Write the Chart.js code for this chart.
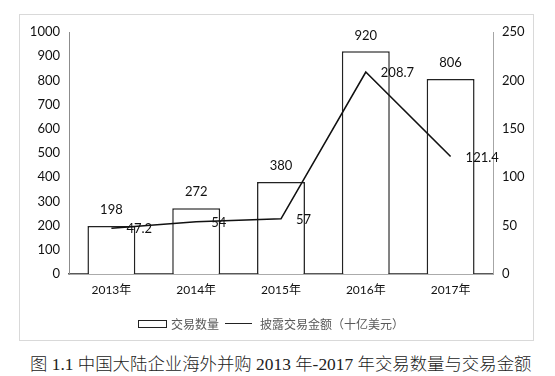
<!DOCTYPE html>
<html>
<head>
<meta charset="utf-8">
<script src="https://cdn.jsdelivr.net/npm/chart.js@4.4.0/dist/chart.umd.min.js"></script>
<style>
  body { margin: 0; background: #fff; width: 555px; height: 376px; position: relative; overflow: hidden; }
  #frame { position: absolute; left: 19px; top: 14px; width: 515px; height: 327px; border: 1px solid #d9d9d9; box-sizing: border-box; }
  #frame canvas { position: absolute; left: 0; top: 0; }
  #legend { position: absolute; top: 299px; left: 118px; font: 12px "Noto Sans CJK SC", sans-serif; color: #595959; white-space: nowrap; line-height: 16px; }
  #legend span { display: inline-block; vertical-align: middle; }
  .box { width: 27px; height: 6px; border: 1.5px solid #222; margin-right: 4px; }
  .ln { width: 27px; height: 0; border-top: 1.5px solid #222; margin: 0 8px 0 6px; }
  #caption { position: absolute; top: 350px; left: 30px; font: 17.4px "Liberation Serif", "Noto Sans CJK SC", serif; font-weight: 300; color: #222; white-space: nowrap; }
</style>
</head>
<body>
<div id="frame">
  <canvas id="myChart" width="513" height="325"></canvas>
  <div id="legend"><span class="box"></span><span>交易数量</span><span class="ln"></span><span>披露交易金额（十亿美元）</span></div>
</div>
<div id="caption">图 1.1 中国大陆企业海外并购 2013 年-2017 年交易数量与交易金额</div>
<script>
'use strict';

var years = ['2013年', '2014年', '2015年', '2016年', '2017年'];
var dealCount = [198, 272, 380, 920, 806];
var dealValue = [47.2, 54, 57, 208.7, 121.4];

var labelFont = '13px Lato, "Noto Sans CJK SC", sans-serif';

// labels above the bars and to the right of the line points
var valueLabels = {
    id: 'valueLabels',
    afterDatasetsDraw: function (chart) {
        var ctx = chart.ctx;
        ctx.save();
        ctx.font = labelFont;
        ctx.fillStyle = '#111';
        ctx.textBaseline = 'middle';

        chart.getDatasetMeta(0).data.forEach(function (bar, i) {
            ctx.textAlign = 'center';
            ctx.fillText(String(dealCount[i]), bar.x, bar.y - 16);
        });
        chart.getDatasetMeta(1).data.forEach(function (pt, i) {
            ctx.textAlign = 'left';
            ctx.fillText(String(dealValue[i]), pt.x + 15, pt.y + 1);
        });
        ctx.restore();
    }
};

function plainTick(value) {
    return String(value);
}

var ctx = document.getElementById('myChart').getContext('2d');
var myChart = new Chart(ctx, {
    data: {
        labels: years,
        datasets: [{
            type: 'bar',
            label: '交易数量',
            data: dealCount,
            yAxisID: 'y',
            backgroundColor: '#fff',
            borderColor: '#222',
            borderWidth: 1.5,
            barPercentage: 0.565,
            categoryPercentage: 1,
            order: 2
        }, {
            type: 'line',
            label: '披露交易金额（十亿美元）',
            data: dealValue,
            yAxisID: 'y1',
            borderColor: '#111',
            borderWidth: 1.6,
            pointRadius: 0,
            tension: 0,
            fill: false,
            order: 1
        }]
    },
    options: {
        responsive: false,
        animation: false,
        layout: { padding: { top: 17, left: 0, right: 0, bottom: 0 } },
        plugins: {
            legend: { display: false },
            tooltip: { enabled: false }
        },
        scales: {
            x: {
                grid: { display: false, drawTicks: false },
                border: { color: '#595959', width: 1.5 },
                ticks: { color: '#111', padding: 9, font: { family: 'Lato, "Noto Sans CJK SC", sans-serif', size: 12 } },
                afterFit: function (scale) { scale.height = 66; }
            },
            y: {
                position: 'left',
                min: 0,
                max: 1000,
                grid: { display: false, drawTicks: false },
                border: { color: '#8c8c8c', width: 1 },
                ticks: { stepSize: 100, color: '#111', padding: 9, callback: plainTick, font: { family: 'Lato, sans-serif', size: 13 } },
                afterFit: function (scale) { scale.width = 49; }
            },
            y1: {
                position: 'right',
                min: 0,
                max: 250,
                grid: { display: false, drawTicks: false },
                border: { color: '#a6a6a6', width: 1 },
                ticks: { stepSize: 50, color: '#111', padding: 9, callback: plainTick, font: { family: 'Lato, sans-serif', size: 13 } },
                afterFit: function (scale) { scale.width = 40; }
            }
        }
    },
    plugins: [valueLabels]
});
</script>
</body>
</html>
